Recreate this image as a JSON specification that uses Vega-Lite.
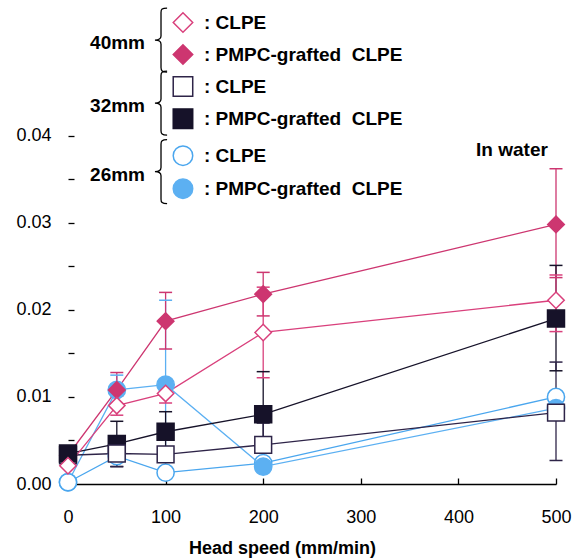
{
  "$schema": "https://vega.github.io/schema/vega-lite/v6.json",
  "width": 488,
  "height": 479,
  "autosize": {"type": "none"},
  "padding": {"left": 68, "top": 5, "right": 20, "bottom": 75},
  "background": "white",
  "config": {"view": {"stroke": null}, "font": "Liberation Sans"},
  "datasets": {
    "pts": [
      {"series": "26mm PMPC", "x": 0, "y": 0.0002},
      {"series": "26mm CLPE", "x": 0, "y": 0.0002},
      {"series": "26mm CLPE", "x": 50, "y": 0.0032},
      {"series": "26mm CLPE", "x": 100, "y": 0.0013},
      {"series": "26mm CLPE", "x": 200, "y": 0.0024},
      {"series": "26mm CLPE", "x": 500, "y": 0.0100},
      {"series": "26mm PMPC", "x": 50, "y": 0.0108, "lo": 0.0091, "hi": 0.0125},
      {"series": "26mm PMPC", "x": 100, "y": 0.0114, "lo": 0.0017, "hi": 0.0211},
      {"series": "26mm PMPC", "x": 200, "y": 0.0020},
      {"series": "26mm PMPC", "x": 500, "y": 0.0087},
      {"series": "40mm PMPC", "x": 0, "y": 0.0033},
      {"series": "40mm PMPC", "x": 50, "y": 0.0108, "lo": 0.0088, "hi": 0.0128},
      {"series": "40mm PMPC", "x": 100, "y": 0.0187, "lo": 0.0155, "hi": 0.0220},
      {"series": "40mm PMPC", "x": 200, "y": 0.0218, "lo": 0.0193, "hi": 0.0243},
      {"series": "40mm PMPC", "x": 500, "y": 0.0298, "lo": 0.0237, "hi": 0.0362},
      {"series": "32mm CLPE", "x": 0, "y": 0.0033},
      {"series": "32mm PMPC", "x": 0, "y": 0.0035},
      {"series": "32mm PMPC", "x": 50, "y": 0.0046, "lo": 0.0020, "hi": 0.0072},
      {"series": "32mm PMPC", "x": 100, "y": 0.0060, "lo": 0.0037, "hi": 0.0083},
      {"series": "32mm PMPC", "x": 200, "y": 0.0080, "lo": 0.0030, "hi": 0.0129},
      {"series": "32mm PMPC", "x": 500, "y": 0.0190, "lo": 0.0130, "hi": 0.0251},
      {"series": "32mm CLPE", "x": 50, "y": 0.0035, "lo": 0.0020, "hi": 0.0050},
      {"series": "32mm CLPE", "x": 100, "y": 0.0034},
      {"series": "32mm CLPE", "x": 200, "y": 0.0045, "lo": 0.0020, "hi": 0.0070},
      {"series": "32mm CLPE", "x": 500, "y": 0.0082, "lo": 0.0027, "hi": 0.0140},
      {"series": "40mm CLPE", "x": 0, "y": 0.0021, "lo": 0.0008, "hi": 0.0036},
      {"series": "40mm CLPE", "x": 50, "y": 0.0090, "lo": 0.0079, "hi": 0.0101},
      {"series": "40mm CLPE", "x": 100, "y": 0.0104, "lo": 0.0093, "hi": 0.0116},
      {"series": "40mm CLPE", "x": 200, "y": 0.0174, "lo": 0.0122, "hi": 0.0226},
      {"series": "40mm CLPE", "x": 500, "y": 0.0211, "lo": 0.0175, "hi": 0.0240}
    ],
    "legend": [
      {"series": "40mm CLPE", "x": 117.8, "y": 0.05299, "label": ": CLPE"},
      {"series": "40mm PMPC", "x": 117.8, "y": 0.04931, "label": ": PMPC-grafted\u00a0 CLPE"},
      {"series": "32mm CLPE", "x": 117.8, "y": 0.04563, "label": ": CLPE"},
      {"series": "32mm PMPC", "x": 117.8, "y": 0.04195, "label": ": PMPC-grafted\u00a0 CLPE"},
      {"series": "26mm CLPE", "x": 117.8, "y": 0.03770, "label": ": CLPE"},
      {"series": "26mm PMPC", "x": 117.8, "y": 0.03391, "label": ": PMPC-grafted\u00a0 CLPE"}
    ],
    "groups": [
      {"x": 78.9, "y": 0.05063, "label": "40mm"},
      {"x": 78.9, "y": 0.04339, "label": "32mm"},
      {"x": 78.9, "y": 0.03552, "label": "26mm"}
    ],
    "notes": [
      {"x": 454.9, "y": 0.03839, "label": "In water"}
    ]
  },
  "encoding": {
    "x": {
      "field": "x", "type": "quantitative",
      "scale": {"domain": [0, 500], "nice": false, "zero": false},
      "axis": {
        "values": [0, 100, 200, 300, 400, 500],
        "title": "Head speed (mm/min)",
        "grid": false,
        "domainColor": "black", "domainWidth": 1.5,
        "tickColor": "black", "tickWidth": 1.3, "tickSize": -6,
        "labelPadding": 30, "labelFontSize": 18, "labelColor": "black", "labelFont": "Liberation Sans", "labelFlush": false,
        "titleFont": "Liberation Sans", "titleFontSize": 18, "titleFontWeight": "bold", "titleColor": "black",
        "titleX": 214, "titleY": 69, "titleBaseline": "alphabetic"
      }
    },
    "y": {
      "field": "y", "type": "quantitative",
      "scale": {"domain": [0, 0.055], "nice": false, "zero": false},
      "axis": {
        "values": [0, 0.005, 0.01, 0.015, 0.02, 0.025, 0.03, 0.035, 0.04],
        "labelExpr": "round(datum.value*200) % 2 == 0 ? format(datum.value, '.2f') : ''",
        "title": null,
        "grid": false,
        "domain": false,
        "tickColor": "black", "tickWidth": 1.3, "tickSize": -6,
        "labelPadding": 23, "labelFontSize": 18, "labelColor": "black", "labelFont": "Liberation Sans", "labelFlush": false
      }
    }
  },
  "layer": [
    {
      "data": {"values": [{"a": 1}]},
      "mark": {"type": "rule", "stroke": "black", "strokeWidth": 1.5},
      "encoding": {"x": {"datum": 0}, "y": {"datum": 0}, "y2": {"datum": 0.04}}
    },
    {
      "data": {"name": "pts"},
      "mark": {"type": "line", "strokeWidth": 1.3},
      "encoding": {
        "stroke": {"field": "series", "type": "nominal", "legend": null,
          "scale": {"domain": ["40mm CLPE", "40mm PMPC", "32mm CLPE", "32mm PMPC", "26mm CLPE", "26mm PMPC"],
                    "range": ["#d9407c", "#cd3670", "#2e2448", "#161229", "#4aa6ee", "#5cb0f2"]}},
        "detail": {"field": "series"}
      }
    },
    {
      "data": {"name": "pts"},
      "transform": [{"filter": "isValid(datum.lo)"}],
      "mark": {"type": "rule", "strokeWidth": 1.3},
      "encoding": {
        "y": {"field": "lo", "type": "quantitative", "title": null},
        "y2": {"field": "hi"},
        "stroke": {"field": "series", "type": "nominal", "legend": null}
      }
    },
    {
      "data": {"name": "pts"},
      "transform": [{"filter": "isValid(datum.lo)"}, {"fold": ["lo", "hi"], "as": ["end", "v"]}],
      "mark": {"type": "rule", "strokeWidth": 1.5, "xOffset": -6.5, "x2Offset": 6.5},
      "encoding": {
        "x2": {"field": "x"},
        "y": {"field": "v", "type": "quantitative", "title": null},
        "stroke": {"field": "series", "type": "nominal", "legend": null}
      }
    },
    {
      "data": {"name": "pts"},
      "mark": {"type": "point", "filled": true, "opacity": 1, "strokeWidth": 1.5},
      "encoding": {
        "shape": {"field": "series", "type": "nominal", "legend": null,
          "scale": {"domain": ["40mm CLPE", "40mm PMPC", "32mm CLPE", "32mm PMPC", "26mm CLPE", "26mm PMPC"],
                    "range": ["diamond", "diamond", "square", "square", "circle", "circle"]}},
        "fill": {"field": "series", "type": "nominal", "legend": null,
          "scale": {"domain": ["40mm CLPE", "40mm PMPC", "32mm CLPE", "32mm PMPC", "26mm CLPE", "26mm PMPC"],
                    "range": ["white", "#cd3670", "white", "#161229", "white", "#5cb0f2"]}},
        "stroke": {"field": "series", "type": "nominal", "legend": null},
        "size": {"field": "series", "type": "nominal", "legend": null,
          "scale": {"domain": ["40mm CLPE", "40mm PMPC", "32mm CLPE", "32mm PMPC", "26mm CLPE", "26mm PMPC"],
                    "range": [270, 300, 300, 400, 310, 484]}}
      }
    },
    {
      "data": {"name": "legend"},
      "mark": {"type": "point", "filled": true, "opacity": 1, "strokeWidth": 1.5, "size": 380},
      "encoding": {
        "shape": {"field": "series", "type": "nominal", "legend": null},
        "fill": {"field": "series", "type": "nominal", "legend": null},
        "stroke": {"field": "series", "type": "nominal", "legend": null}
      }
    },
    {
      "data": {"name": "legend"},
      "mark": {"type": "text", "align": "left", "baseline": "middle", "dx": 21, "font": "Liberation Sans", "fontSize": 19, "fontWeight": "bold", "color": "black"},
      "encoding": {"text": {"field": "label"}}
    },
    {
      "data": {"name": "groups"},
      "mark": {"type": "text", "align": "right", "baseline": "middle", "font": "Liberation Sans", "fontSize": 19, "fontWeight": "bold", "color": "black"},
      "encoding": {"text": {"field": "label"}}
    },
    {
      "data": {"name": "groups"},
      "mark": {"type": "point", "filled": false, "stroke": "black", "strokeWidth": 1.3, "opacity": 1, "size": 4096, "xOffset": 16, "yOffset": -3,
        "shape": "M0.19,-1 C0.03,-1 0,-0.96 0,-0.86 L0,-0.13 C0,-0.04 -0.07,0 -0.19,0 C-0.07,0 0,0.04 0,0.13 L0,0.86 C0,0.96 0.03,1 0.19,1"},
      "encoding": {}
    },
    {
      "data": {"name": "notes"},
      "mark": {"type": "text", "align": "center", "baseline": "middle", "font": "Liberation Sans", "fontSize": 19, "fontWeight": "bold", "color": "black"},
      "encoding": {"text": {"field": "label"}}
    }
  ]
}
